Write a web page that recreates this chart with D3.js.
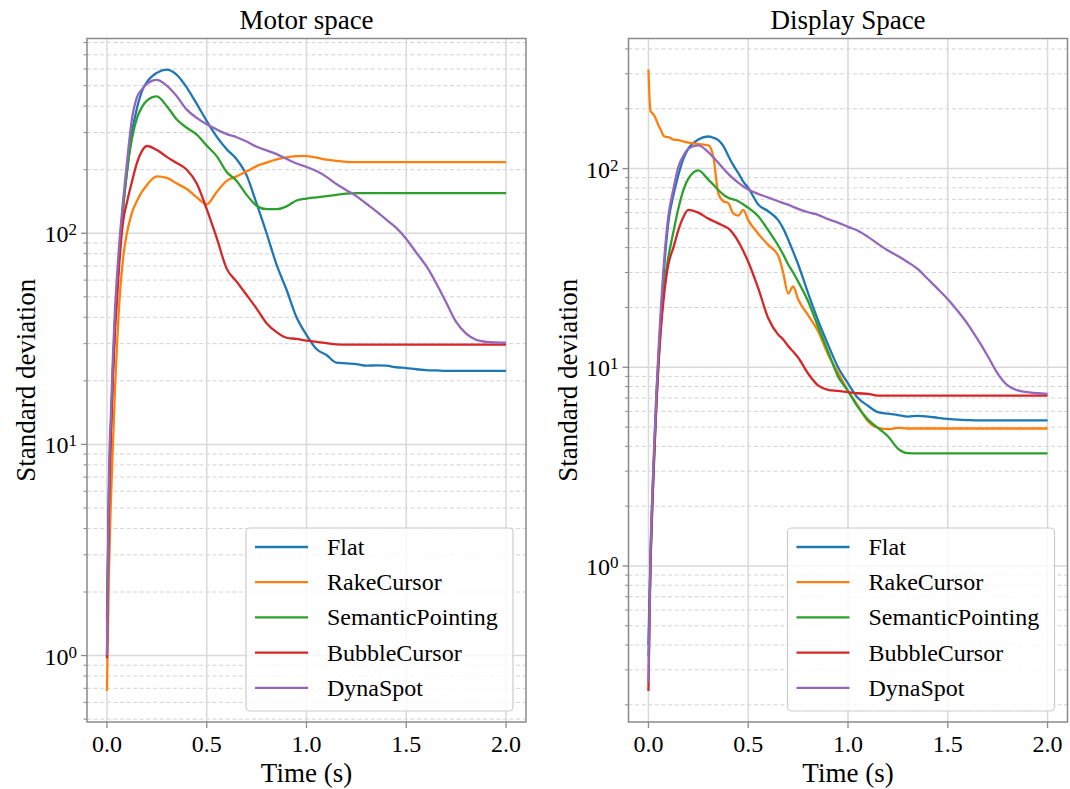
<!DOCTYPE html>
<html>
<head>
<meta charset="utf-8">
<script src="https://cdn.jsdelivr.net/npm/d3@7"></script>
<style>
  html, body { margin: 0; padding: 0; background: #fff; }
  svg text { font-family: "Liberation Serif", "Times New Roman", serif; fill: #000; }
</style>
</head>
<body>
<svg id="chart" width="1070" height="789"></svg>
<script>
// ---------------- data ----------------
const seriesNames = ["Flat", "RakeCursor", "SemanticPointing", "BubbleCursor", "DynaSpot"];
const seriesColors = ["#1f77b4", "#ff7f0e", "#2ca02c", "#d62728", "#9467bd"];
const xTickValues = [0, 0.5, 1.0, 1.5, 2.0];

const timeMotor = [0, 0.01, 0.02, 0.03, 0.04, 0.05, 0.06, 0.08, 0.1, 0.125, 0.15, 0.175, 0.2, 0.25, 0.3, 0.35, 0.4, 0.45, 0.5, 0.55, 0.6, 0.65, 0.7, 0.75, 0.8, 0.85, 0.9, 0.95, 1.0, 1.05, 1.1, 1.15, 1.2, 1.25, 1.3, 1.35, 1.4, 1.45, 1.5, 1.55, 1.6, 1.65, 1.7, 1.75, 1.8, 1.85, 1.9, 1.95, 2.0];

const motorFlat = [1.5, 6, 12, 23, 38, 55, 76, 130, 195, 300, 390, 470, 520, 575, 596, 563, 490, 410, 340, 287, 250, 224, 188, 138, 100, 71, 54, 40, 33, 28.3, 26.5, 24.4, 24.2, 24.0, 23.6, 23.7, 23.6, 23.2, 23.0, 22.7, 22.5, 22.4, 22.3, 22.3, 22.3, 22.3, 22.3, 22.3, 22.3];
const motorRake = [0.68, 2.5, 5.5, 10, 18, 29, 44, 75, 100, 125, 142, 157, 169, 186, 183, 172, 162, 148, 137, 157, 177, 186, 196, 208, 216, 224, 229, 232, 232, 228, 223, 220, 218, 217, 217, 217, 217, 217, 217, 217, 217, 217, 217, 217, 217, 217, 217, 217, 217];
const motorSemantic = [1.3, 5.5, 12, 22, 37, 53, 74, 128, 195, 280, 350, 395, 425, 445, 400, 346, 316, 293, 260, 232, 195, 177, 152, 135, 130, 130, 134, 143, 146, 148, 150, 152, 154, 155, 155, 155, 155, 155, 155, 155, 155, 155, 155, 155, 155, 155, 155, 155, 155];
const motorBubble = [0.97, 5, 11.5, 21, 34, 48, 68, 112, 140, 175, 215, 245, 259, 248, 230, 215, 200, 172, 130, 95, 68, 59, 51, 44, 37.5, 34, 32, 31.6, 31, 30.6, 30.2, 29.8, 29.7, 29.7, 29.7, 29.7, 29.7, 29.7, 29.7, 29.7, 29.7, 29.7, 29.7, 29.7, 29.7, 29.7, 29.7, 29.7, 29.7];
const motorDyna = [1.0, 7, 14, 26, 43, 62, 85, 140, 215, 346, 440, 480, 510, 533, 500, 445, 385, 352, 328, 310, 295, 285, 272, 257, 247, 237, 225, 214, 206, 197, 185, 171, 160, 150, 138, 127, 116, 106, 94, 81, 70, 58, 47, 38, 33.5, 31.3, 30.6, 30.4, 30.3];

const timeDisplay = [0, 0.01, 0.02, 0.03, 0.04, 0.05, 0.06, 0.08, 0.1, 0.125, 0.15, 0.175, 0.2, 0.25, 0.3, 0.325, 0.35, 0.375, 0.4, 0.425, 0.45, 0.475, 0.5, 0.55, 0.6, 0.65, 0.675, 0.7, 0.725, 0.75, 0.8, 0.85, 0.9, 0.95, 1.0, 1.05, 1.1, 1.15, 1.2, 1.25, 1.3, 1.35, 1.4, 1.45, 1.5, 1.55, 1.6, 1.65, 1.7, 1.75, 1.8, 1.85, 1.9, 1.95, 2.0];

const displayFlat = [0.4, 1.1, 2.3, 4.1, 7.2, 11, 16.5, 33, 54, 73.5, 93, 112, 126, 140, 145, 143, 139, 130, 116, 104, 95, 86, 80, 66, 61, 55, 50, 44, 38.2, 33, 23.6, 17.2, 13, 10, 8.3, 7.0, 6.4, 5.95, 5.84, 5.75, 5.65, 5.7, 5.65, 5.57, 5.5, 5.45, 5.42, 5.4, 5.4, 5.4, 5.4, 5.4, 5.4, 5.4, 5.4];
const displayRake = [315, 195, 190, 184, 175, 165, 158, 145, 144, 140, 139, 137, 135, 133, 131, 115, 75, 68.5, 67, 59.5, 58, 62, 55, 47, 41.3, 36.5, 30, 23.5, 25.5, 22, 18.3, 15.2, 11.6, 9.4, 7.6, 6.4, 5.35, 4.95, 4.88, 4.95, 4.92, 4.92, 4.92, 4.92, 4.92, 4.92, 4.92, 4.92, 4.92, 4.92, 4.92, 4.92, 4.92, 4.92, 4.92];
const displaySemantic = [0.35, 1.0, 2.1, 3.8, 6.6, 10.3, 15, 26, 36, 48, 63, 78, 89, 98, 88, 83, 78, 74, 71.3, 70, 68.5, 66, 63.5, 57.5, 49, 41, 37, 33, 30, 27, 21.5, 16, 12, 9.0, 7.6, 6.3, 5.45, 4.95, 4.5, 3.9, 3.7, 3.69, 3.69, 3.69, 3.69, 3.69, 3.69, 3.69, 3.69, 3.69, 3.69, 3.69, 3.69, 3.69, 3.69];
const displayBubble = [0.235, 1.0, 2.1, 3.8, 6.6, 10.3, 14.5, 24, 33, 40, 49, 57, 62, 60, 56, 54.5, 53, 51.5, 50, 47, 43, 38.5, 34, 25, 17.7, 14.6, 13.8, 12.8, 12, 11.2, 9.3, 8.1, 7.7, 7.6, 7.5, 7.4, 7.35, 7.2, 7.2, 7.2, 7.2, 7.2, 7.2, 7.2, 7.2, 7.2, 7.2, 7.2, 7.2, 7.2, 7.2, 7.2, 7.2, 7.2, 7.2];
const displayDyna = [0.26, 1.15, 2.4, 4.3, 7.5, 12, 18, 36, 58, 79, 102, 116, 126, 131, 121, 114, 107, 100, 94, 89, 85, 81.5, 78.5, 74.5, 71.5, 68.5, 67, 65.8, 64.2, 62.7, 60.3, 58.5, 55.7, 53.5, 50.9, 48.6, 45.3, 41.8, 38.7, 36.3, 33.8, 31.2, 27.8, 24.8, 22, 19.2, 16.5, 13.8, 11.4, 9.3, 8.1, 7.65, 7.5, 7.4, 7.35];

const panels = [
  { title: "Motor space", time: timeMotor, values: [motorFlat, motorRake, motorSemantic, motorBubble, motorDyna], left: 87, right: 526 },
  { title: "Display Space", time: timeDisplay, values: [displayFlat, displayRake, displaySemantic, displayBubble, displayDyna], left: 628.5, right: 1067.5 }
];

// ---------------- drawing ----------------
const svg = d3.select("#chart");
const TOP = 38.5, BOTTOM = 722;
const frameColor = "#8a8a8a";

panels.forEach((p, pi) => {
  const g = svg.append("g");
  const tExt = d3.extent(p.time);
  const tPad = (tExt[1] - tExt[0]) * 0.05;
  const x = d3.scaleLinear().domain([tExt[0] - tPad, tExt[1] + tPad]).range([p.left, p.right]);

  const all = p.values.flat();
  const lmin = Math.log10(d3.min(all)), lmax = Math.log10(d3.max(all));
  const lPad = (lmax - lmin) * 0.05;
  const y = d3.scaleLog().domain([Math.pow(10, lmin - lPad), Math.pow(10, lmax + lPad)]).range([BOTTOM, TOP]);

  const [d0, d1] = y.domain();
  const yTicks = y.ticks().filter(v => v >= d0 && v <= d1);
  const isMajor = v => Math.abs(Math.log10(v) - Math.round(Math.log10(v))) < 1e-9;
  const majorY = yTicks.filter(isMajor);
  const minorY = yTicks.filter(v => !isMajor(v));

  // minor grid (dashed)
  g.append("g").selectAll("line").data(minorY).join("line")
    .attr("x1", p.left).attr("x2", p.right)
    .attr("y1", d => y(d)).attr("y2", d => y(d))
    .attr("stroke", "#d2d2d2").attr("stroke-width", 1)
    .attr("stroke-dasharray", "4,2.6");
  // major grid
  g.append("g").selectAll("line").data(majorY).join("line")
    .attr("x1", p.left).attr("x2", p.right)
    .attr("y1", d => y(d)).attr("y2", d => y(d))
    .attr("stroke", "#d9d9d9").attr("stroke-width", 1.5);
  g.append("g").selectAll("line").data(xTickValues).join("line")
    .attr("x1", d => x(d)).attr("x2", d => x(d))
    .attr("y1", TOP).attr("y2", BOTTOM)
    .attr("stroke", "#d9d9d9").attr("stroke-width", 1.5);

  // clip
  const clipId = "clip" + pi;
  svg.append("clipPath").attr("id", clipId).append("rect")
    .attr("x", p.left).attr("y", TOP).attr("width", p.right - p.left).attr("height", BOTTOM - TOP);

  const line = d3.line()
    .x((d, i) => x(p.time[i]))
    .y(d => y(d))
    .curve(d3.curveMonotoneX);

  const lg = g.append("g").attr("clip-path", `url(#${clipId})`);
  p.values.forEach((vals, si) => {
    lg.append("path").datum(vals)
      .attr("d", line)
      .attr("fill", "none")
      .attr("stroke", seriesColors[si])
      .attr("stroke-width", 2.3)
      .attr("stroke-linejoin", "round")
      .attr("stroke-linecap", "butt");
  });

  // frame
  g.append("rect").attr("x", p.left).attr("y", TOP)
    .attr("width", p.right - p.left).attr("height", BOTTOM - TOP)
    .attr("fill", "none").attr("stroke", frameColor).attr("stroke-width", 1.5);

  // ticks
  g.append("g").selectAll("line").data(xTickValues).join("line")
    .attr("x1", d => x(d)).attr("x2", d => x(d))
    .attr("y1", BOTTOM).attr("y2", BOTTOM + 6)
    .attr("stroke", frameColor).attr("stroke-width", 1.3);
  g.append("g").selectAll("line").data(majorY).join("line")
    .attr("x1", p.left - 6).attr("x2", p.left)
    .attr("y1", d => y(d)).attr("y2", d => y(d))
    .attr("stroke", frameColor).attr("stroke-width", 1.3);
  g.append("g").selectAll("line").data(minorY).join("line")
    .attr("x1", p.left - 3.5).attr("x2", p.left)
    .attr("y1", d => y(d)).attr("y2", d => y(d))
    .attr("stroke", frameColor).attr("stroke-width", 1);

  // x tick labels
  g.append("g").selectAll("text").data(xTickValues).join("text")
    .attr("x", d => x(d)).attr("y", 752)
    .attr("text-anchor", "middle").attr("font-size", 24)
    .text(d => d3.format(".1f")(d));

  // y tick labels (10^n)
  majorY.forEach(v => {
    const e = Math.round(Math.log10(v));
    const t = g.append("text")
      .attr("x", p.left - 10).attr("y", y(v) + 9)
      .attr("text-anchor", "end").attr("font-size", 24);
    t.append("tspan").text("10");
    t.append("tspan").attr("font-size", 17).attr("dy", -7).text(e);
  });

  // title
  g.append("text").attr("x", (p.left + p.right) / 2).attr("y", 29)
    .attr("text-anchor", "middle").attr("font-size", 27).text(p.title);
  // x label
  g.append("text").attr("x", (p.left + p.right) / 2).attr("y", 782)
    .attr("text-anchor", "middle").attr("font-size", 27).text("Time (s)");
  // y label
  g.append("text")
    .attr("transform", `translate(${p.left - 52},${(TOP + BOTTOM) / 2}) rotate(-90)`)
    .attr("text-anchor", "middle").attr("font-size", 27).text("Standard deviation");

  // legend
  const boxW = 267, boxH = 183;
  const bx = p.right - 13 - boxW, by = BOTTOM - 11 - boxH;
  const leg = g.append("g");
  leg.append("rect").attr("x", bx).attr("y", by).attr("width", boxW).attr("height", boxH)
    .attr("rx", 4).attr("ry", 4)
    .attr("fill", "#fff").attr("fill-opacity", 0.8)
    .attr("stroke", "#cccccc").attr("stroke-width", 1.2);
  seriesNames.forEach((name, si) => {
    const cy = by + 19 + si * 35.2;
    leg.append("line").attr("x1", bx + 9).attr("x2", bx + 62)
      .attr("y1", cy).attr("y2", cy)
      .attr("stroke", seriesColors[si]).attr("stroke-width", 2.3);
    leg.append("text").attr("x", bx + 81).attr("y", cy + 8)
      .attr("font-size", 24).text(name);
  });
});
</script>
</body>
</html>
